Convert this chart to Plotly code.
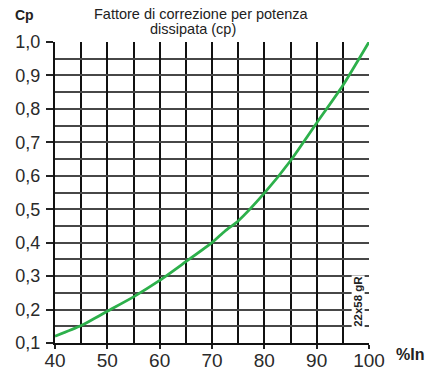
import plotly.graph_objects as go

# Correction factor curve: Cp versus percentage of rated current
pct_in = [40, 45, 50, 55, 60, 65, 70, 72.5, 75, 80, 85, 90, 95, 100]
cp = [0.12, 0.152, 0.195, 0.238, 0.287, 0.343, 0.400, 0.435, 0.465, 0.548, 0.645, 0.758, 0.870, 1.0]

x_ticks = [40, 50, 60, 70, 80, 90, 100]
y_ticks = [0.1, 0.2, 0.3, 0.4, 0.5, 0.6, 0.7, 0.8, 0.9, 1.0]
y_labels = ["0,1", "0,2", "0,3", "0,4", "0,5", "0,6", "0,7", "0,8", "0,9", "1,0"]

fig = go.Figure()
fig.add_trace(go.Scatter(
    x=pct_in, y=cp, mode="lines",
    line=dict(color="#2DB04B", width=2.8, shape="spline", smoothing=0.6),
    hoverinfo="skip", showlegend=False,
))

font_family = "Liberation Sans, Arial, sans-serif"

fig.update_layout(
    width=429, height=383,
    margin=dict(l=55, r=60, t=42, b=36),
    paper_bgcolor="white", plot_bgcolor="white",
    font=dict(family=font_family, color="#222"),
    xaxis=dict(
        range=[40, 100], tickvals=x_ticks, ticktext=[str(v) for v in x_ticks],
        ticks="outside", ticklen=4, tickwidth=1.5, tickcolor="#222",
        tickfont=dict(size=19, color="#2a2a2a"), ticklabelstandoff=-5,
        showgrid=True, gridcolor="#111", gridwidth=2.3,
        minor=dict(dtick=5, showgrid=True, gridcolor="#111", gridwidth=2.3),
        showline=True, linecolor="#111", linewidth=2,
        zeroline=False, fixedrange=True,
    ),
    yaxis=dict(
        range=[0.1, 1.0], tickvals=y_ticks, ticktext=y_labels,
        ticks="outside", ticklen=7, tickwidth=1.5, tickcolor="#222",
        tickfont=dict(size=18, color="#2a2a2a"), ticklabelstandoff=2,
        showgrid=True, gridcolor="#474747", gridwidth=1.7,
        minor=dict(dtick=0.05, tick0=0.1, showgrid=True, gridcolor="#474747", gridwidth=1.7),
        showline=True, linecolor="#111", linewidth=2,
        zeroline=False, fixedrange=True,
    ),
    annotations=[
        dict(text="Fattore di correzione per potenza",
             xref="paper", yref="paper", x=(201 - 55) / 314, y=1.0, yshift=28,
             xanchor="center", yanchor="middle", showarrow=False,
             font=dict(size=14.5, color="#222")),
        dict(text="dissipata (cp)",
             xref="paper", yref="paper", x=(193 - 55) / 314, y=1.0, yshift=13,
             xanchor="center", yanchor="middle", showarrow=False,
             font=dict(size=14.5, color="#222")),
        dict(text="<b>Cp</b>", xref="paper", yref="paper", x=(25 - 55) / 314, y=1.0, yshift=27,
             xanchor="center", yanchor="middle", showarrow=False,
             font=dict(size=14, color="#222")),
        dict(text="<b>%In</b>", xref="paper", yref="paper", x=1.0, y=0.0, xshift=25, yshift=-11,
             xanchor="left", yanchor="middle", showarrow=False,
             font=dict(size=16, color="#222")),
        dict(text="<b>22x58 gR</b>", xref="x", yref="y", x=97.9, y=0.223,
             xanchor="center", yanchor="middle", showarrow=False, textangle=-90,
             bgcolor="white", borderpad=0,
             font=dict(size=11.5, color="#222")),
    ],
)

fig.write_html("out.html")
